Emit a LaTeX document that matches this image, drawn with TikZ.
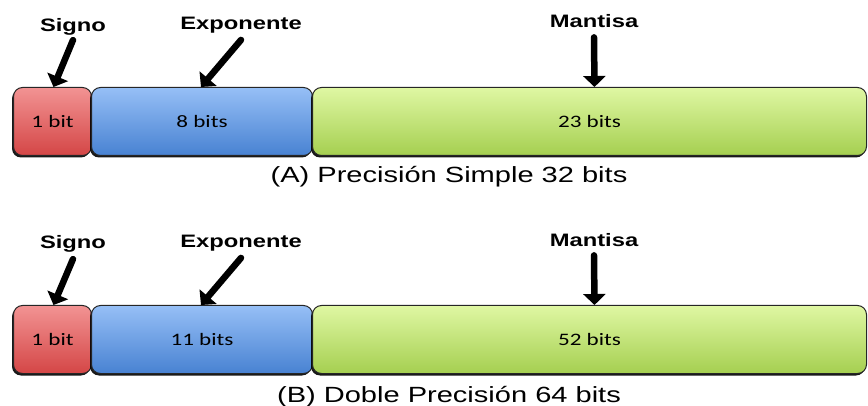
\documentclass[tikz,border=0pt]{standalone}
\usepackage{fontspec}
\setmainfont{Liberation Sans}
\newfontfamily\boxfont{Carlito}
\usetikzlibrary{arrows.meta,shadows}
% horizontally widened text, as in the original layout
\newcommand{\widetxt}[1]{\scalebox{1.32}[1]{#1}}
\definecolor{signtop}{HTML}{F29393}
\definecolor{signbot}{HTML}{D44646}
\definecolor{exptop}{HTML}{96BFF6}
\definecolor{expbot}{HTML}{4882D2}
\definecolor{mantop}{HTML}{DFF7A3}
\definecolor{manbot}{HTML}{A5CF50}
\tikzset{
  field/.style={draw=black!85, line width=1pt, rounded corners=9pt,
    anchor=north west, minimum height=68pt, inner sep=0pt,
    drop shadow={shadow xshift=-1.5pt, shadow yshift=-2pt, opacity=0.9, fill=black},
    font=\boxfont\fontsize{17.5}{17.5}\selectfont},
  signfield/.style={field, top color=signtop, bottom color=signbot, minimum width=78pt},
  expfield/.style={field, top color=exptop, bottom color=expbot, minimum width=221pt},
  manfield/.style={field, top color=mantop, bottom color=manbot, minimum width=554pt},
  partlabel/.style={anchor=base, inner sep=0pt, font=\bfseries\fontsize{18}{18}\selectfont},
  caption/.style={anchor=base, inner sep=0pt, font=\fontsize{22}{22}\selectfont},
  bigarrow/.style={line width=6.5pt, line cap=round,
    -{Triangle[width=22pt,length=11pt]}}
}
\begin{document}
\begin{tikzpicture}[x=1pt,y=-1pt]
\useasboundingbox[fill=white] (0,0) rectangle (868,406);

% ---- (A) single precision ----
\node[signfield] (sgnA) at (13,87) {\widetxt{1 bit}};
\node[expfield]  (expA) at (91,87) {\widetxt{8 bits}};
\node[manfield]  (manA) at (312,87) {\widetxt{23 bits}};

\node[partlabel] (lsA) at (73,32)  {\widetxt{Signo}};
\node[partlabel] (leA) at (241,30) {\widetxt{Exponente}};
\node[partlabel] (lmA) at (594,28) {\widetxt{Mantisa}};

\draw[bigarrow] ([yshift=-4pt]lsA.south) -- ([xshift=1pt]sgnA.north);
\draw[bigarrow] ([yshift=-6pt]leA.south) -- ([xshift=-1pt]expA.north);
\draw[bigarrow] ([yshift=-9pt]lmA.south) -- ([xshift=5pt]manA.north);

\node[caption] (capA) at (449,183) {\widetxt{(A) Precisión Simple 32 bits}};

% ---- (B) double precision ----
\node[signfield] (sgnB) at (13,305) {\widetxt{1 bit}};
\node[expfield]  (expB) at (91,305) {\widetxt{11 bits}};
\node[manfield]  (manB) at (312,305) {\widetxt{52 bits}};

\node[partlabel] (lsB) at (73,249)  {\widetxt{Signo}};
\node[partlabel] (leB) at (241,248) {\widetxt{Exponente}};
\node[partlabel] (lmB) at (594,247) {\widetxt{Mantisa}};

\draw[bigarrow] ([yshift=-6pt]lsB.south) -- ([xshift=1pt]sgnB.north);
\draw[bigarrow] ([yshift=-6pt]leB.south) -- ([xshift=-1pt]expB.north);
\draw[bigarrow] ([yshift=-8pt]lmB.south) -- ([xshift=5pt]manB.north);

\node[caption] (capB) at (449,402) {\widetxt{(B) Doble Precisión 64 bits}};
\end{tikzpicture}
\end{document}
